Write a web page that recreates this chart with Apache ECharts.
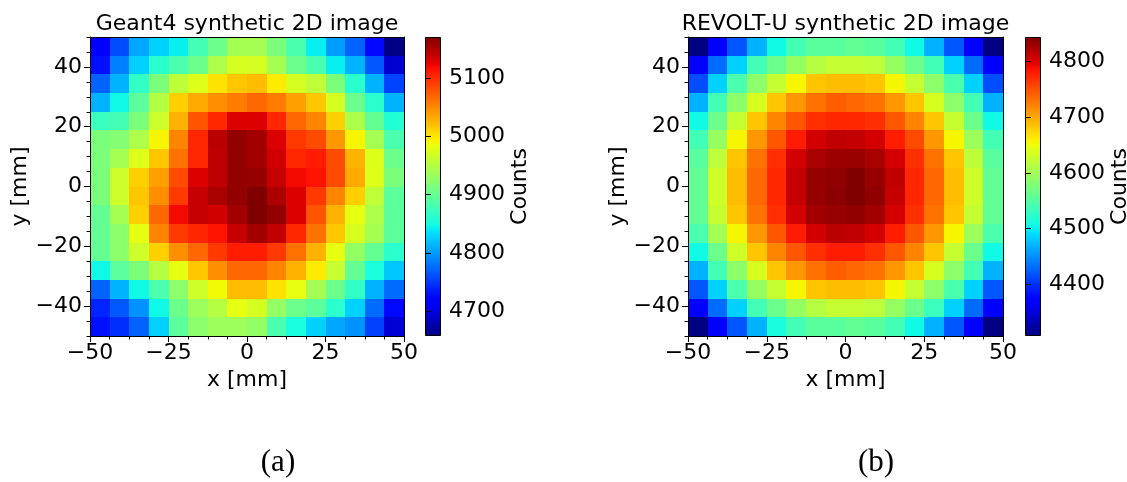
<!DOCTYPE html>
<html><head><meta charset="utf-8">
<script src="https://cdn.jsdelivr.net/npm/echarts@6/dist/echarts.min.js"></script>
<style>html,body{margin:0;padding:0;background:#fff}#c{width:1127px;height:482px}</style>
</head><body><div id="c"></div>
<script>
// ---------------- data ----------------
const xCenters = [-46.875, -40.625, -34.375, -28.125, -21.875, -15.625, -9.375, -3.125,
                  3.125, 9.375, 15.625, 21.875, 28.125, 34.375, 40.625, 46.875];
const yCenters = [46.875, 40.625, 34.375, 28.125, 21.875, 15.625, 9.375, 3.125,
                  -3.125, -9.375, -15.625, -21.875, -28.125, -34.375, -40.625, -46.875];

const geant4Rows = [
  [4719, 4760, 4806, 4827, 4842, 4878, 4904, 4940, 4940, 4914, 4883, 4842, 4801, 4771, 4725, 4660],
  [4730, 4786, 4827, 4863, 4883, 4904, 4945, 4970, 4970, 4940, 4904, 4883, 4842, 4812, 4766, 4694],
  [4771, 4812, 4868, 4914, 4955, 4975, 5001, 5016, 5022, 4996, 4970, 4955, 4914, 4863, 4812, 4755],
  [4812, 4847, 4894, 4950, 5011, 5032, 5047, 5057, 5068, 5057, 5037, 5016, 4970, 4904, 4863, 4812],
  [4873, 4878, 4914, 4965, 5027, 5078, 5103, 5129, 5129, 5103, 5068, 5052, 5011, 4945, 4899, 4858],
  [4914, 4919, 4945, 4991, 5052, 5103, 5144, 5162, 5155, 5129, 5093, 5083, 5042, 4991, 4940, 4883],
  [4914, 4940, 4975, 5016, 5062, 5103, 5142, 5162, 5155, 5134, 5103, 5109, 5083, 5027, 4975, 4904],
  [4914, 4965, 5011, 5037, 5083, 5129, 5142, 5162, 5160, 5139, 5119, 5114, 5083, 5032, 4975, 4914],
  [4914, 4965, 5016, 5047, 5093, 5139, 5152, 5162, 5170, 5150, 5129, 5093, 5052, 5011, 4955, 4894],
  [4899, 4940, 5011, 5068, 5119, 5139, 5134, 5155, 5170, 5162, 5129, 5078, 5027, 4981, 4945, 4894],
  [4899, 4924, 4981, 5052, 5093, 5103, 5114, 5139, 5155, 5142, 5103, 5062, 5016, 4970, 4940, 4894],
  [4899, 4924, 4965, 5011, 5047, 5068, 5093, 5109, 5109, 5093, 5062, 5027, 4981, 4929, 4899, 4863],
  [4847, 4894, 4914, 4950, 4981, 5016, 5047, 5068, 5068, 5052, 5027, 4996, 4960, 4899, 4853, 4822],
  [4771, 4812, 4847, 4883, 4924, 4965, 4988, 5022, 5022, 5001, 4981, 4940, 4904, 4868, 4812, 4776],
  [4740, 4766, 4796, 4847, 4904, 4934, 4950, 4981, 4970, 4929, 4904, 4894, 4863, 4827, 4776, 4725],
  [4730, 4745, 4771, 4827, 4894, 4924, 4934, 4934, 4929, 4883, 4853, 4827, 4806, 4796, 4755, 4696]
];

const revoltRows = [
  [4307, 4371, 4420, 4468, 4506, 4538, 4554, 4554, 4559, 4554, 4538, 4506, 4468, 4420, 4371, 4307],
  [4371, 4430, 4484, 4538, 4565, 4592, 4613, 4624, 4624, 4618, 4592, 4565, 4538, 4484, 4430, 4366],
  [4414, 4484, 4543, 4586, 4624, 4656, 4683, 4688, 4688, 4683, 4656, 4624, 4586, 4543, 4484, 4414],
  [4468, 4538, 4586, 4635, 4683, 4710, 4731, 4742, 4737, 4731, 4710, 4683, 4635, 4586, 4538, 4468],
  [4506, 4565, 4624, 4683, 4720, 4747, 4769, 4774, 4774, 4769, 4747, 4720, 4683, 4624, 4565, 4506],
  [4538, 4592, 4656, 4710, 4747, 4780, 4806, 4814, 4812, 4806, 4780, 4753, 4710, 4656, 4597, 4538],
  [4554, 4618, 4683, 4731, 4769, 4806, 4825, 4831, 4833, 4825, 4806, 4769, 4731, 4683, 4618, 4554],
  [4559, 4629, 4688, 4737, 4774, 4812, 4833, 4836, 4844, 4833, 4814, 4774, 4737, 4688, 4629, 4559],
  [4559, 4629, 4688, 4737, 4774, 4812, 4833, 4839, 4844, 4836, 4812, 4774, 4737, 4688, 4629, 4559],
  [4559, 4624, 4683, 4731, 4769, 4806, 4828, 4833, 4836, 4828, 4806, 4769, 4731, 4683, 4624, 4559],
  [4543, 4602, 4656, 4710, 4747, 4780, 4806, 4817, 4814, 4806, 4780, 4747, 4710, 4656, 4597, 4543],
  [4506, 4565, 4629, 4683, 4720, 4747, 4769, 4780, 4780, 4769, 4747, 4720, 4683, 4624, 4565, 4506],
  [4468, 4538, 4586, 4635, 4683, 4710, 4731, 4742, 4737, 4731, 4710, 4683, 4635, 4586, 4538, 4468],
  [4420, 4484, 4543, 4592, 4624, 4656, 4683, 4688, 4688, 4683, 4656, 4624, 4586, 4543, 4484, 4420],
  [4371, 4431, 4484, 4538, 4565, 4592, 4613, 4624, 4624, 4618, 4592, 4565, 4533, 4484, 4431, 4366],
  [4307, 4371, 4420, 4468, 4511, 4538, 4554, 4554, 4559, 4554, 4538, 4506, 4468, 4420, 4371, 4307]
];

const geant4Range = [4658, 5170];
const revoltRange = [4307, 4844];
const geant4CbTicks = [4700, 4800, 4900, 5000, 5100];
const revoltCbTicks = [4400, 4500, 4600, 4700, 4800];
const xExtent = [-50, 50];
const xInterval = 25;
const yExtent = [-50, 50];
const yMajorTicks = [-40, -20, 0, 20, 40];
const yMinorInterval = 5;
const titles = ['Geant4 synthetic 2D image', 'REVOLT-U synthetic 2D image'];
const captions = ['(a)', '(b)'];
const xName = 'x [mm]';
const yName = 'y [mm]';
const cbName = 'Counts';

// ---------------- jet colormap ----------------
const jetSeg = {
  r: [[0, 0], [0.35, 0], [0.66, 1], [0.89, 1], [1, 0.5]],
  g: [[0, 0], [0.125, 0], [0.375, 1], [0.64, 1], [0.91, 0], [1, 0]],
  b: [[0, 0.5], [0.11, 1], [0.34, 1], [0.65, 0], [1, 0]]
};
function segVal(s, t) {
  for (let i = 1; i < s.length; i++) {
    if (t <= s[i][0]) {
      const a = s[i - 1], b = s[i];
      return a[1] + (b[1] - a[1]) * (t - a[0]) / (b[0] - a[0]);
    }
  }
  return s[s.length - 1][1];
}
function jet(t) {
  const r = Math.round(255 * segVal(jetSeg.r, t));
  const g = Math.round(255 * segVal(jetSeg.g, t));
  const b = Math.round(255 * segVal(jetSeg.b, t));
  return 'rgb(' + r + ',' + g + ',' + b + ')';
}
const NC = 129;
const jetColors = [];
const jetStops = [];
for (let i = 0; i < NC; i++) {
  const t = i / (NC - 1);
  jetColors.push(jet(t));
  jetStops.push({offset: t, color: jet(t)});
}

// ---------------- build ----------------
function toCells(rows) {
  const out = [];
  rows.forEach((row, j) => row.forEach((v, i) => out.push([xCenters[i], yCenters[j], v])));
  return out;
}
const halfW = (xCenters[1] - xCenters[0]) / 2;
const halfH = (yCenters[0] - yCenters[1]) / 2;

function cellRender(params, api) {
  const x = api.value(0), y = api.value(1);
  const p0 = api.coord([x - halfW, y + halfH]);
  const p1 = api.coord([x + halfW, y - halfH]);
  const x0 = Math.round(p0[0]), y0 = Math.round(p0[1]);
  const x1 = Math.round(p1[0]), y1 = Math.round(p1[1]);
  return {type: 'rect', shape: {x: x0, y: y0, width: x1 - x0, height: y1 - y0},
          style: {fill: api.visual('color')}};
}
function cbRender(params, api) {
  const p0 = api.coord([api.value(0), api.value(3)]);
  const p1 = api.coord([api.value(2), api.value(1)]);
  const x0 = Math.round(p0[0]) + 0.5, y0 = Math.round(p0[1]) + 0.5;
  const x1 = Math.round(p1[0]) - 0.5, y1 = Math.round(p1[1]) - 0.5;
  return {type: 'rect', shape: {x: x0, y: y0, width: x1 - x0, height: y1 - y0},
          style: {fill: new echarts.graphic.LinearGradient(0, 1, 0, 0, jetStops), stroke: '#000', lineWidth: 1}};
}

const FONT = 'DejaVu Sans';
const FS = 22;
const fmt = v => (v < 0 ? '\u2212' + (-v) : String(v));
const black = {color: '#000', width: 1};

function gridOpt(left, width) {
  return {left: left, top: 37, width: width, height: 299, outerBoundsMode: 'none', containLabel: false};
}
const grids = [gridOpt(90, 314), gridOpt(425, 16), gridOpt(688, 315), gridOpt(1025, 16)];

function mainX(g) {
  return {gridIndex: g, type: 'value', position: 'bottom', min: xExtent[0], max: xExtent[1], interval: xInterval, z: 5,
    axisLine: {show: true, onZero: false, lineStyle: black},
    axisTick: {show: true, length: 6, lineStyle: black},
    minorTick: {show: true, splitNumber: 4, length: 3.5, lineStyle: black},
    splitLine: {show: false}, minorSplitLine: {show: false},
    axisLabel: {show: true, color: '#000', fontSize: FS, fontFamily: FONT, margin: 6, formatter: fmt},
    name: xName, nameLocation: 'middle', nameGap: 32,
    nameTextStyle: {color: '#000', fontSize: FS, fontFamily: FONT}};
}
function topX(g) {
  return {gridIndex: g, type: 'value', position: 'top', min: xExtent[0], max: xExtent[1], z: 5,
    axisLine: {show: true, onZero: false, lineStyle: black}, axisTick: {show: false},
    axisLabel: {show: false}, splitLine: {show: false}};
}
function cbX(g) {
  return {gridIndex: g, type: 'value', min: 0, max: 1, show: false};
}
function mainY(g) {
  return {gridIndex: g, type: 'value', position: 'left', min: yExtent[0], max: yExtent[1], z: 5,
    axisLine: {show: true, onZero: false, lineStyle: black},
    axisTick: {show: true, length: 6, lineStyle: black, customValues: yMajorTicks},
    splitLine: {show: false},
    axisLabel: {show: true, color: '#000', fontSize: FS, fontFamily: FONT, margin: 8, formatter: fmt, customValues: yMajorTicks},
    name: yName, nameLocation: 'middle', nameGap: 57,
    nameTextStyle: {color: '#000', fontSize: FS, fontFamily: FONT}};
}
function minorY(g) {
  return {gridIndex: g, type: 'value', position: 'left', offset: 0, min: yExtent[0], max: yExtent[1], interval: yMinorInterval, z: 5,
    axisLine: {show: false, onZero: false},
    axisTick: {show: true, length: 3.5, lineStyle: black},
    axisLabel: {show: false}, splitLine: {show: false}};
}
function rightY(g) {
  return {gridIndex: g, type: 'value', position: 'right', min: yExtent[0], max: yExtent[1], z: 5,
    axisLine: {show: true, onZero: false, lineStyle: black}, axisTick: {show: false},
    axisLabel: {show: false}, splitLine: {show: false}};
}
function cbY(g, range, ticks) {
  return {gridIndex: g, type: 'value', position: 'right', min: range[0], max: range[1], z: 5,
    axisLine: {show: false},
    axisTick: {show: true, length: 6, lineStyle: black, customValues: ticks},
    splitLine: {show: false},
    axisLabel: {show: true, color: '#000', fontSize: FS, fontFamily: FONT, margin: 8, formatter: v => String(v), customValues: ticks},
    name: cbName, nameLocation: 'middle', nameGap: 59,
    nameTextStyle: {color: '#000', fontSize: FS, fontFamily: FONT}};
}

const option = {
  animation: false,
  backgroundColor: '#fff',
  textStyle: {fontFamily: FONT},
  grid: grids,
  xAxis: [mainX(0), topX(0), cbX(1), mainX(2), topX(2), cbX(3)],
  yAxis: [mainY(0), minorY(0), rightY(0), cbY(1, geant4Range, geant4CbTicks),
          mainY(2), minorY(2), rightY(2), cbY(3, revoltRange, revoltCbTicks)],
  visualMap: [
    {type: 'continuous', show: false, seriesIndex: 0, dimension: 2,
     min: geant4Range[0], max: geant4Range[1], inRange: {color: jetColors}},
    {type: 'continuous', show: false, seriesIndex: 2, dimension: 2,
     min: revoltRange[0], max: revoltRange[1], inRange: {color: jetColors}}
  ],
  series: [
    {type: 'custom', xAxisIndex: 0, yAxisIndex: 0, z: 1, renderItem: cellRender,
     encode: {x: 0, y: 1}, data: toCells(geant4Rows), silent: true},
    {type: 'custom', xAxisIndex: 2, yAxisIndex: 3, z: 1, renderItem: cbRender,
     encode: {x: [0, 2], y: [1, 3]}, data: [[0, geant4Range[0], 1, geant4Range[1]]], silent: true},
    {type: 'custom', xAxisIndex: 3, yAxisIndex: 4, z: 1, renderItem: cellRender,
     encode: {x: 0, y: 1}, data: toCells(revoltRows), silent: true},
    {type: 'custom', xAxisIndex: 5, yAxisIndex: 7, z: 1, renderItem: cbRender,
     encode: {x: [0, 2], y: [1, 3]}, data: [[0, revoltRange[0], 1, revoltRange[1]]], silent: true}
  ],
  graphic: [
    {type: 'text', x: 247, y: 24, style: {text: titles[0], fill: '#000', font: FS + 'px "' + FONT + '"', textAlign: 'center', textVerticalAlign: 'middle'}},
    {type: 'text', x: 845.5, y: 24, style: {text: titles[1], fill: '#000', font: FS + 'px "' + FONT + '"', textAlign: 'center', textVerticalAlign: 'middle'}},
    {type: 'text', x: 278, y: 463, style: {text: captions[0], fill: '#000', font: '31px "Liberation Serif"', textAlign: 'center', textVerticalAlign: 'middle'}},
    {type: 'text', x: 876, y: 463, style: {text: captions[1], fill: '#000', font: '31px "Liberation Serif"', textAlign: 'center', textVerticalAlign: 'middle'}}
  ]
};

const chart = echarts.init(document.getElementById('c'), null, {renderer: 'canvas'});
chart.setOption(option);
</script>
</body></html>
